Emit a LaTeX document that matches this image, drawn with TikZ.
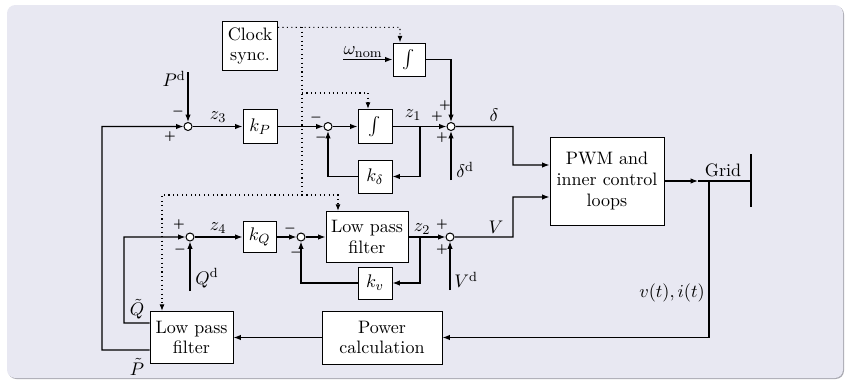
\documentclass[tikz,border=0pt]{standalone}
\usepackage{amsmath}
\usetikzlibrary{arrows.meta}
\definecolor{bg}{RGB}{232,232,242}
\definecolor{shd}{RGB}{170,170,178}
\begin{document}
\begin{tikzpicture}[x=0.6pt,y=-0.6pt,
  font=\fontsize{10.8}{12.4}\selectfont,
  every path/.style={line width=0.65pt},
  blk/.style={draw, fill=white, line width=0.6pt, inner sep=1pt, align=center},
  sumnode/.style={circle, draw, fill=white, line width=0.6pt, inner sep=0pt, minimum size=4.8pt},
  sig/.style={font=\scriptsize, inner sep=0pt},
  lbl/.style={inner sep=0pt},
  ar/.style={-{Latex[length=4.4pt,width=3.2pt]}},
  dotline/.style={dotted, line width=0.65pt},
  dotar/.style={dotted, line width=0.65pt, -{Latex[length=4pt,width=3pt]}}
]
\useasboundingbox (0,0) rectangle (846,381);
\fill[shd, rounded corners=5pt] (8,6) rectangle (844,379);
\fill[bg, rounded corners=5pt] (7,5) rectangle (843,378);

% blocks
\node[blk, minimum width=33pt, minimum height=29.4pt] (clock) at (250,46) {Clock\\sync.};
\node[blk, minimum width=19.2pt, minimum height=19.8pt] (wint) at (409,59.5) {$\int$};
\node[blk, minimum width=20.4pt, minimum height=20.4pt] (kP) at (260,126.5) {$k_P$};
\node[blk, minimum width=20.4pt, minimum height=20.4pt] (int1) at (375,126.5) {$\int$};
\node[blk, minimum width=20.4pt, minimum height=19.8pt] (kd) at (375,176.5) {$k_\delta$};
\node[blk, minimum width=68.4pt, minimum height=52.8pt] (pwm) at (607,181) {PWM and\\inner control\\loops};
\node[blk, minimum width=19.8pt, minimum height=18.6pt] (kQ) at (259.5,237) {$k_Q$};
\node[blk, minimum width=49.2pt, minimum height=30.6pt] (lpf1) at (367,237) {Low pass\\filter};
\node[blk, minimum width=20.4pt, minimum height=19.2pt] (kv) at (375,283) {$k_v$};
\node[blk, minimum width=49.8pt, minimum height=31.2pt] (lpf2) at (191.5,337.5) {Low pass\\filter};
\node[blk, minimum width=72pt, minimum height=31.8pt] (power) at (382,337.5) {Power\\calculation};

% sums
\node[sumnode] (s1) at (188,126.5) {};
\node[sumnode] (s2) at (328,126.5) {};
\node[sumnode] (s3) at (451,126.5) {};
\node[sumnode] (s4) at (190,237) {};
\node[sumnode] (s5) at (301,237) {};
\node[sumnode] (s6) at (450,237) {};

% coordinates
\coordinate (pd) at (188,72);
\coordinate (fbP) at (102,350);
\coordinate (fbQ) at (124,323);
\coordinate (b1) at (420,126.5);
\coordinate (b2) at (420,237);
\coordinate (wn) at (343,59.5);
\coordinate (dd) at (451,180);
\coordinate (qd) at (190,291);
\coordinate (vd) at (450,290);
\coordinate (dbend) at (513,165);
\coordinate (vbend) at (513,197);
\coordinate (garr) at (698,181);
\coordinate (gbranch) at (709,181);
\coordinate (gmid) at (751,181);
\coordinate (gtop) at (751,154);
\coordinate (gbot) at (751,207);
\coordinate (d1) at (302,27.3);
\coordinate (d2) at (400,27.3);
\coordinate (d3) at (302,195);
\coordinate (d4) at (302,93);
\coordinate (d5) at (368,93);
\coordinate (d6) at (162,195);
\coordinate (d7) at (338,195);

% upper loop
\draw[ar] (pd) -- (s1);
\draw[ar] ([yshift=-7.5pt]lpf2.west) -- (fbP) |- (s1);
\draw[ar] (s1) -- (kP);
\draw[ar] (kP) -- (s2);
\draw[ar] (s2) -- (int1);
\draw[ar] (int1) -- (s3);
\draw[ar] (b1) |- (kd);
\draw[ar] (kd) -| (s2);
\draw[ar] (wn) -- (wint);
\draw[ar] (wint) -| (s3);
\draw[ar] (dd) -- (s3);
\draw[ar] (s3) -| (dbend) -- ([yshift=9.6pt]pwm.west);

% lower loop
\draw[ar] (qd) -- (s4);
\draw[ar] ([yshift=8.7pt]lpf2.west) -- (fbQ) |- (s4);
\draw[ar] (s4) -- (kQ);
\draw[ar] (kQ) -- (s5);
\draw[ar] (s5) -- (lpf1);
\draw[ar] (lpf1) -- (s6);
\draw[ar] (b2) |- (kv);
\draw[ar] (kv) -| (s5);
\draw[ar] (vd) -- (s6);
\draw[ar] (s6) -| (vbend) -- ([yshift=-9.6pt]pwm.west);

% grid
\draw[ar] (pwm.east) -- (garr);
\draw (garr) -- (gmid);
\draw (gtop) -- (gbot);
\draw[ar] (gbranch) |- (power.east);
\draw[ar] (power.west) -- (lpf2.east);

% clock sync
\draw[dotar] ([yshift=11.2pt]clock.east) -- (d2) -- (d2 |- wint.north);
\draw[dotline] (d1) -- (d3);
\draw[dotar] (d4) -- (d5) -- (d5 |- int1.north);
\draw[dotar] (d3) -- (d7) -- (d7 |- lpf1.north);
\draw[dotar] (d3) -- (d6) -- (d6 |- lpf2.north);

% labels
\node[lbl, anchor=south west] at ([yshift=1pt]wn) {$\omega_{\mathrm{nom}}$};
\node[lbl] at (174,79) {$P^{\mathrm{d}}$};
\node[lbl] at (218,117) {$z_3$};
\node[lbl] at (413,115) {$z_1$};
\node[lbl] at (494,115) {$\delta$};
\node[lbl] at (465,170) {$\delta^{\mathrm{d}}$};
\node[lbl] at (218,228) {$z_4$};
\node[lbl] at (422,229) {$z_2$};
\node[lbl] at (496,227) {$V$};
\node[lbl] at (207,278) {$Q^{\mathrm{d}}$};
\node[lbl] at (466,280) {$V^{\mathrm{d}}$};
\node[lbl] at (723,170) {Grid};
\node[lbl] at (672,293) {$v(t), i(t)$};
\node[lbl] at (137,309) {$\tilde{Q}$};
\node[lbl] at (137,367) {$\tilde{P}$};

% signs
\node[sig] at (178,112) {$\boldsymbol{-}$};
\node[sig] at (170,137) {$\boldsymbol{+}$};
\node[sig] at (316,118) {$\boldsymbol{-}$};
\node[sig] at (321,138) {$\boldsymbol{-}$};
\node[sig] at (445,106) {$\boldsymbol{+}$};
\node[sig] at (437,117) {$\boldsymbol{+}$};
\node[sig] at (442,138) {$\boldsymbol{+}$};
\node[sig] at (179,225) {$\boldsymbol{+}$};
\node[sig] at (180,250) {$\boldsymbol{-}$};
\node[sig] at (290,229) {$\boldsymbol{-}$};
\node[sig] at (296,253) {$\boldsymbol{-}$};
\node[sig] at (442,225) {$\boldsymbol{+}$};
\node[sig] at (442,250) {$\boldsymbol{+}$};
\end{tikzpicture}
\end{document}
